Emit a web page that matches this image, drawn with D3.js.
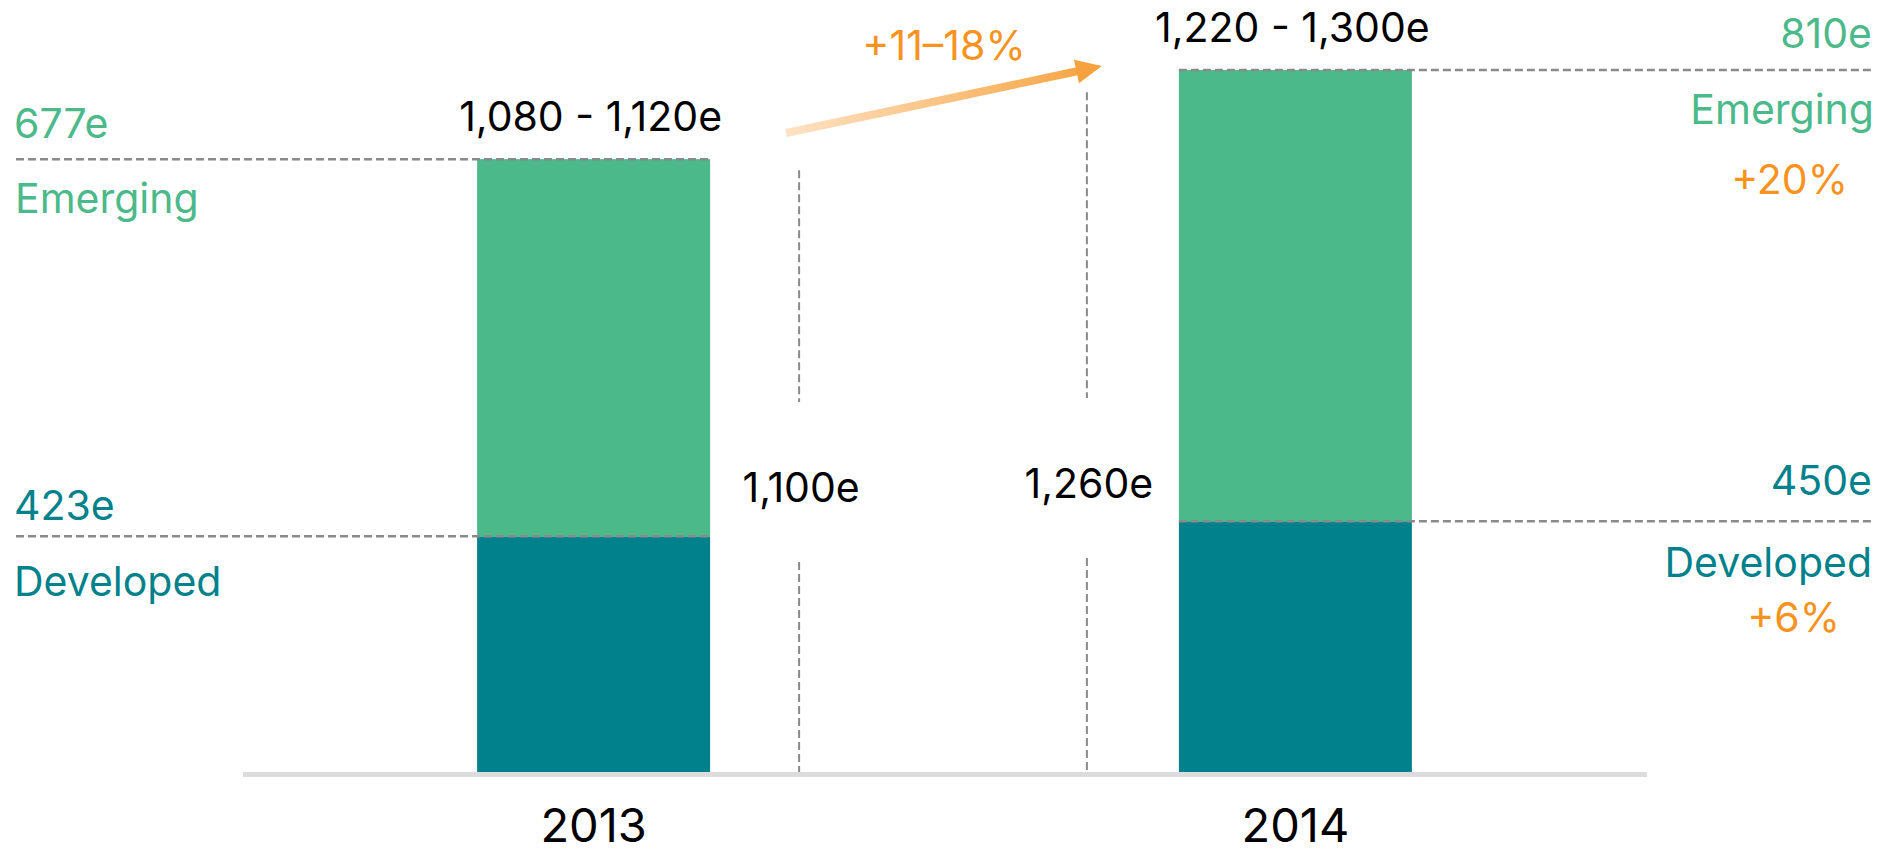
<!DOCTYPE html>
<html>
<head>
<meta charset="utf-8">
<script src="https://cdn.jsdelivr.net/npm/d3@7"></script>
<style>
  body { margin: 0; background: #fff; }
  text { font-family: Inter, "Noto Sans", sans-serif; font-size: 41px; }
</style>
</head>
<body>
<div id="chart"></div>
<script>
// Chart data
const years = ["2013", "2014"];
const developed = [423, 450];
const emerging = [677, 810];
const totalLabels = ["1,100e", "1,260e"];
const rangeLabels = ["1,080 - 1,120e", "1,220 - 1,300e"];
const rangeLow = [1080, 1220];
const emergingLabels = ["677e", "810e"];
const developedLabels = ["423e", "450e"];
const growthTotal = "+11–18%";
const growthEmerging = "+20%";
const growthDeveloped = "+6%";

const width = 1893, height = 853;
const green = "#4cb98a", teal = "#00818c", orange = "#f7931e", dashGray = "#8a8a8a";

const svg = d3.select("#chart").append("svg")
  .attr("width", width)
  .attr("height", height);

// Scales
const x = d3.scaleBand()
  .domain(years)
  .range([228, 1661])
  .paddingInner(0.668)
  .paddingOuter(0.355);

const y = d3.scaleLinear()
  .domain([0, 1260])
  .range([772, 70]);

// Stacked bars
const stackData = years.map((yr, i) => ({year: yr, developed: developed[i], emerging: emerging[i]}));
const series = d3.stack().keys(["developed", "emerging"])(stackData);
const colors = {developed: teal, emerging: green};

svg.append("g").selectAll("g")
  .data(series)
  .join("g")
    .attr("fill", d => colors[d.key])
  .selectAll("rect")
  .data(d => d)
  .join("rect")
    .attr("x", d => x(d.data.year))
    .attr("y", d => y(d[1]))
    .attr("width", x.bandwidth())
    .attr("height", d => y(d[0]) - y(d[1]));

// Baseline
svg.append("line")
  .attr("x1", 243).attr("x2", 1647)
  .attr("y1", y(0) + 2.5).attr("y2", y(0) + 2.5)
  .attr("stroke", "#dcdcdc")
  .attr("stroke-width", 5);

// Horizontal dashed guides
const x0 = x(years[0]), x1 = x(years[1]), bw = x.bandwidth();
const hGuides = [
  {v: developed[0] + emerging[0], a: 16, b: x0 + bw},
  {v: developed[0], a: 16, b: x0 + bw},
  {v: developed[1] + emerging[1], a: x1, b: 1873},
  {v: developed[1], a: x1, b: 1873}
];
svg.append("g").selectAll("line")
  .data(hGuides)
  .join("line")
    .attr("x1", d => d.a).attr("x2", d => d.b)
    .attr("y1", d => y(d.v)).attr("y2", d => y(d.v))
    .attr("stroke", dashGray)
    .attr("stroke-width", 2.5)
    .attr("stroke-dasharray", "8,4");

// Total markers between the bars
const totalX = [x0 + bw + 89, x1 - 92];
const totalY = [502, 498];
const vSegs = [];
totalX.forEach((tx, i) => {
  vSegs.push({x: tx, y1: y(rangeLow[i]), y2: totalY[i] - 100});
  vSegs.push({x: tx, y1: totalY[i] + 60, y2: y(0)});
});
svg.append("g").selectAll("line")
  .data(vSegs)
  .join("line")
    .attr("x1", d => d.x).attr("x2", d => d.x)
    .attr("y1", d => d.y1).attr("y2", d => d.y2)
    .attr("stroke", dashGray)
    .attr("stroke-width", 2)
    .attr("stroke-dasharray", "8,4");

svg.append("g").selectAll("text")
  .data(totalLabels)
  .join("text")
    .attr("x", (d, i) => totalX[i] + 2)
    .attr("y", (d, i) => totalY[i])
    .attr("text-anchor", "middle")
    .attr("fill", "#000")
    .text(d => d);

// Range labels above bars
svg.append("g").selectAll("text")
  .data(rangeLabels)
  .join("text")
    .attr("x", (d, i) => x(years[i]) + bw / 2 - 3)
    .attr("y", (d, i) => y(developed[i] + emerging[i]) - 28)
    .attr("text-anchor", "middle")
    .attr("fill", "#000")
    .text(d => d);

// Year labels
svg.append("g").selectAll("text")
  .data(years)
  .join("text")
    .attr("x", d => x(d) + bw / 2)
    .attr("y", 842)
    .attr("text-anchor", "middle")
    .attr("fill", "#000")
    .style("font-size", "47px")
    .text(d => d);

// Left side labels (2013)
const left = svg.append("g").attr("text-anchor", "start");
left.append("text").attr("x", 14).attr("y", y(developed[0] + emerging[0]) - 21)
  .attr("fill", green).text(emergingLabels[0]);
left.append("text").attr("x", 15).attr("y", y(developed[0] + emerging[0]) + 54)
  .attr("fill", green).text("Emerging");
left.append("text").attr("x", 14).attr("y", y(developed[0]) - 16)
  .attr("fill", teal).text(developedLabels[0]);
left.append("text").attr("x", 14).attr("y", y(developed[0]) + 60)
  .attr("fill", teal).text("Developed");

// Right side labels (2014)
const right = svg.append("g").attr("text-anchor", "end");
right.append("text").attr("x", 1872).attr("y", y(developed[1] + emerging[1]) - 22)
  .attr("fill", green).text(emergingLabels[1]);
right.append("text").attr("x", 1874).attr("y", y(developed[1] + emerging[1]) + 54)
  .attr("fill", green).text("Emerging");
right.append("text").attr("x", 1848).attr("y", y(developed[1] + emerging[1]) + 124)
  .attr("fill", orange).text(growthEmerging);
right.append("text").attr("x", 1872).attr("y", y(developed[1]) - 26)
  .attr("fill", teal).text(developedLabels[1]);
right.append("text").attr("x", 1872).attr("y", y(developed[1]) + 56)
  .attr("fill", teal).text("Developed");
right.append("text").attr("x", 1840).attr("y", y(developed[1]) + 111)
  .attr("fill", orange).text(growthDeveloped);

// Growth arrow
const tail = [totalX[0] - 13, 133];
const tip = [totalX[1] + 15, 66];
const defs = svg.append("defs");
const grad = defs.append("linearGradient")
  .attr("id", "arrowGrad")
  .attr("gradientUnits", "userSpaceOnUse")
  .attr("x1", tail[0]).attr("y1", tail[1])
  .attr("x2", tip[0]).attr("y2", tip[1]);
grad.append("stop").attr("offset", "0%").attr("stop-color", "#fde2c4");
grad.append("stop").attr("offset", "100%").attr("stop-color", "#f7a23e");

const ang = Math.atan2(tip[1] - tail[1], tip[0] - tail[0]);
const headLen = 26, headHalf = 12;
const base = [tip[0] - headLen * Math.cos(ang), tip[1] - headLen * Math.sin(ang)];
svg.append("line")
  .attr("x1", tail[0]).attr("y1", tail[1])
  .attr("x2", base[0] + 2 * Math.cos(ang)).attr("y2", base[1] + 2 * Math.sin(ang))
  .attr("stroke", "url(#arrowGrad)")
  .attr("stroke-width", 8);
svg.append("path")
  .attr("d", d3.line()([
    tip,
    [base[0] - headHalf * Math.sin(ang), base[1] + headHalf * Math.cos(ang)],
    [base[0] + headHalf * Math.sin(ang), base[1] - headHalf * Math.cos(ang)]
  ]) + "Z")
  .attr("fill", "#f7a23e");

svg.append("text")
  .attr("x", 944).attr("y", 60)
  .attr("text-anchor", "middle")
  .attr("fill", orange)
  .text(growthTotal);
</script>
</body>
</html>
